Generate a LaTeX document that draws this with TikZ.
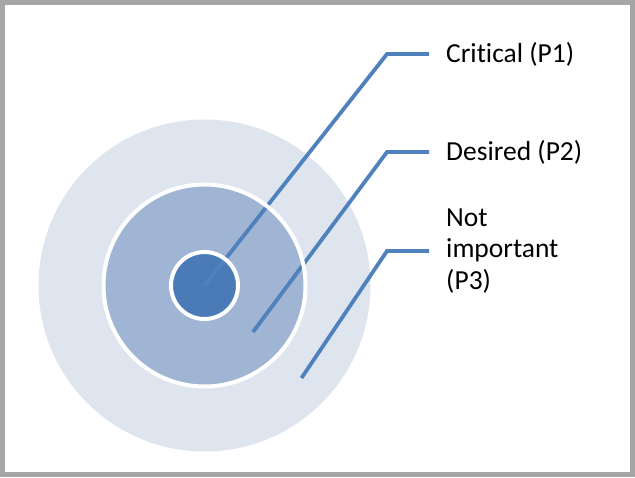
\documentclass[tikz,border=0pt]{standalone}
\usepackage{fontspec}
\setmainfont{Carlito}[Ligatures=NoCommon]
\definecolor{frameGray}{HTML}{A6A6A6}
\definecolor{zoneOuter}{HTML}{DEE5EF}
\definecolor{zoneMid}{HTML}{A0B4D4}
\definecolor{zoneCore}{HTML}{4A7BB6}
\definecolor{pointerBlue}{HTML}{4F81BD}
\begin{document}
\begin{tikzpicture}[x=1pt, y=-1pt, zone/.style={circle,draw=none,inner sep=0pt}, ring/.style={draw=white,line width=4pt}, pointer/.style={draw=pointerBlue,line width=3.8pt}, label node/.style={anchor=west,inner sep=0pt,align=left,font=\fontsize{27.5}{31.5}\selectfont}]
\useasboundingbox (0,0) rectangle (635,477);
\draw[frameGray, line width=4.8pt] (2.4,2.4) rectangle (632.6,474.6);
\begin{scope}
\node[zone, fill=zoneOuter, minimum size=332pt] (outer) at (204.5,285.5) {};
\node[zone, fill=zoneMid, minimum size=202pt] (mid) at (outer.center) {};
\node[zone, fill=zoneCore, minimum size=67pt] (core) at (outer.center) {};
\end{scope}
\begin{scope}[every node/.style={label node}]
\node (p1) at (446,54) {Critical (P1)};
\node (p2) at (446,152) {Desired (P2)};
\node (p3) at (446,251) {Not\\important\\(P3)};
\end{scope}
%\coordinate (tip) at (,);
\coordinate (tip1) at (core.center);
\coordinate (knee1) at (387,54);
\coordinate (tail1) at (429,54);
\coordinate (tip2) at (253,332);
\coordinate (knee2) at (387,152);
\coordinate (tail2) at (429,152);
\coordinate (tip3) at (301.5,378);
\coordinate (knee3) at (387,251);
\coordinate (tail3) at (429,251);
\begin{scope}
\draw[pointer] (tip1) -- (knee1) -- (tail1);
\draw[pointer] (tip2) -- (knee2) -- (tail2);
\draw[pointer] (tip3) -- (knee3) -- (tail3);
\end{scope}
% white borders over the pointers
\draw[ring] (mid.center) circle[radius=101pt];
\draw[ring] (core.center) circle[radius=33.5pt];
\end{tikzpicture}
\end{document}
